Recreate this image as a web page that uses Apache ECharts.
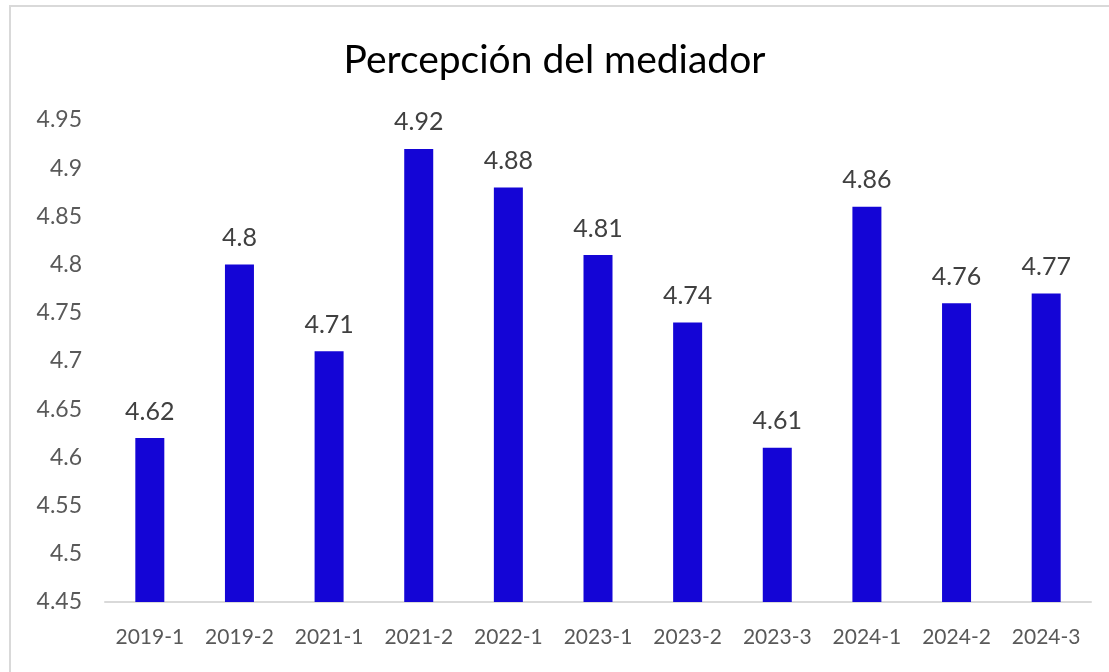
<!DOCTYPE html>
<html>
<head>
<meta charset="utf-8">
<script src="https://cdn.jsdelivr.net/npm/echarts@6/dist/echarts.min.js"></script>
<style>
  html, body { margin: 0; padding: 0; background: #fff; }
  #myChart { width: 1109px; height: 672px; }
</style>
</head>
<body>
<div id="myChart"></div>
<script>
// periodos
var categories = ['2019-1', '2019-2', '2021-1', '2021-2', '2022-1', '2023-1', '2023-2', '2023-3', '2024-1', '2024-2', '2024-3'];
// valores
var values = [4.62, 4.8, 4.71, 4.92, 4.88, 4.81, 4.74, 4.61, 4.86, 4.76, 4.77];
var yTicks = { min: 4.45, max: 4.95, interval: 0.05 };

var myChart = echarts.init(document.getElementById('myChart'));
var font = 'Lato, "Open Sans", sans-serif';

var option = {
    backgroundColor: '#fff',
    animation: false,
    title: {
        text: 'Percepción del mediador',
        left: 'center',
        top: 36,
        textStyle: { fontFamily: font, fontSize: 39, fontWeight: 'normal', color: '#000' }
    },
    graphic: [{
        type: 'rect',
        shape: { x: 10, y: 6, width: 1110, height: 680 },
        style: { fill: 'none', stroke: '#d9d9d9', lineWidth: 2 },
        silent: true
    }],
    grid: { left: 105, right: 18, top: 120, bottom: 70 },
    xAxis: {
        type: 'category',
        data: categories,
        axisTick: { show: false },
        axisLine: { lineStyle: { color: '#d9d9d9', width: 2 } },
        axisLabel: { color: '#595959', fontFamily: font, fontSize: 21, margin: 25, interval: 0 }
    },
    yAxis: {
        type: 'value',
        min: yTicks.min,
        max: yTicks.max,
        interval: yTicks.interval,
        splitLine: { show: false },
        axisLine: { show: false },
        axisTick: { show: false },
        axisLabel: { color: '#595959', fontFamily: font, fontSize: 23, margin: 23 }
    },
    series: [{
        type: 'bar',
        data: values,
        barWidth: 29,
        itemStyle: { color: '#1405D6' },
        label: {
            show: true,
            position: 'top',
            distance: 14,
            color: '#404040',
            fontFamily: font,
            fontSize: 25
        }
    }]
};
myChart.setOption(option);
</script>
</body>
</html>
